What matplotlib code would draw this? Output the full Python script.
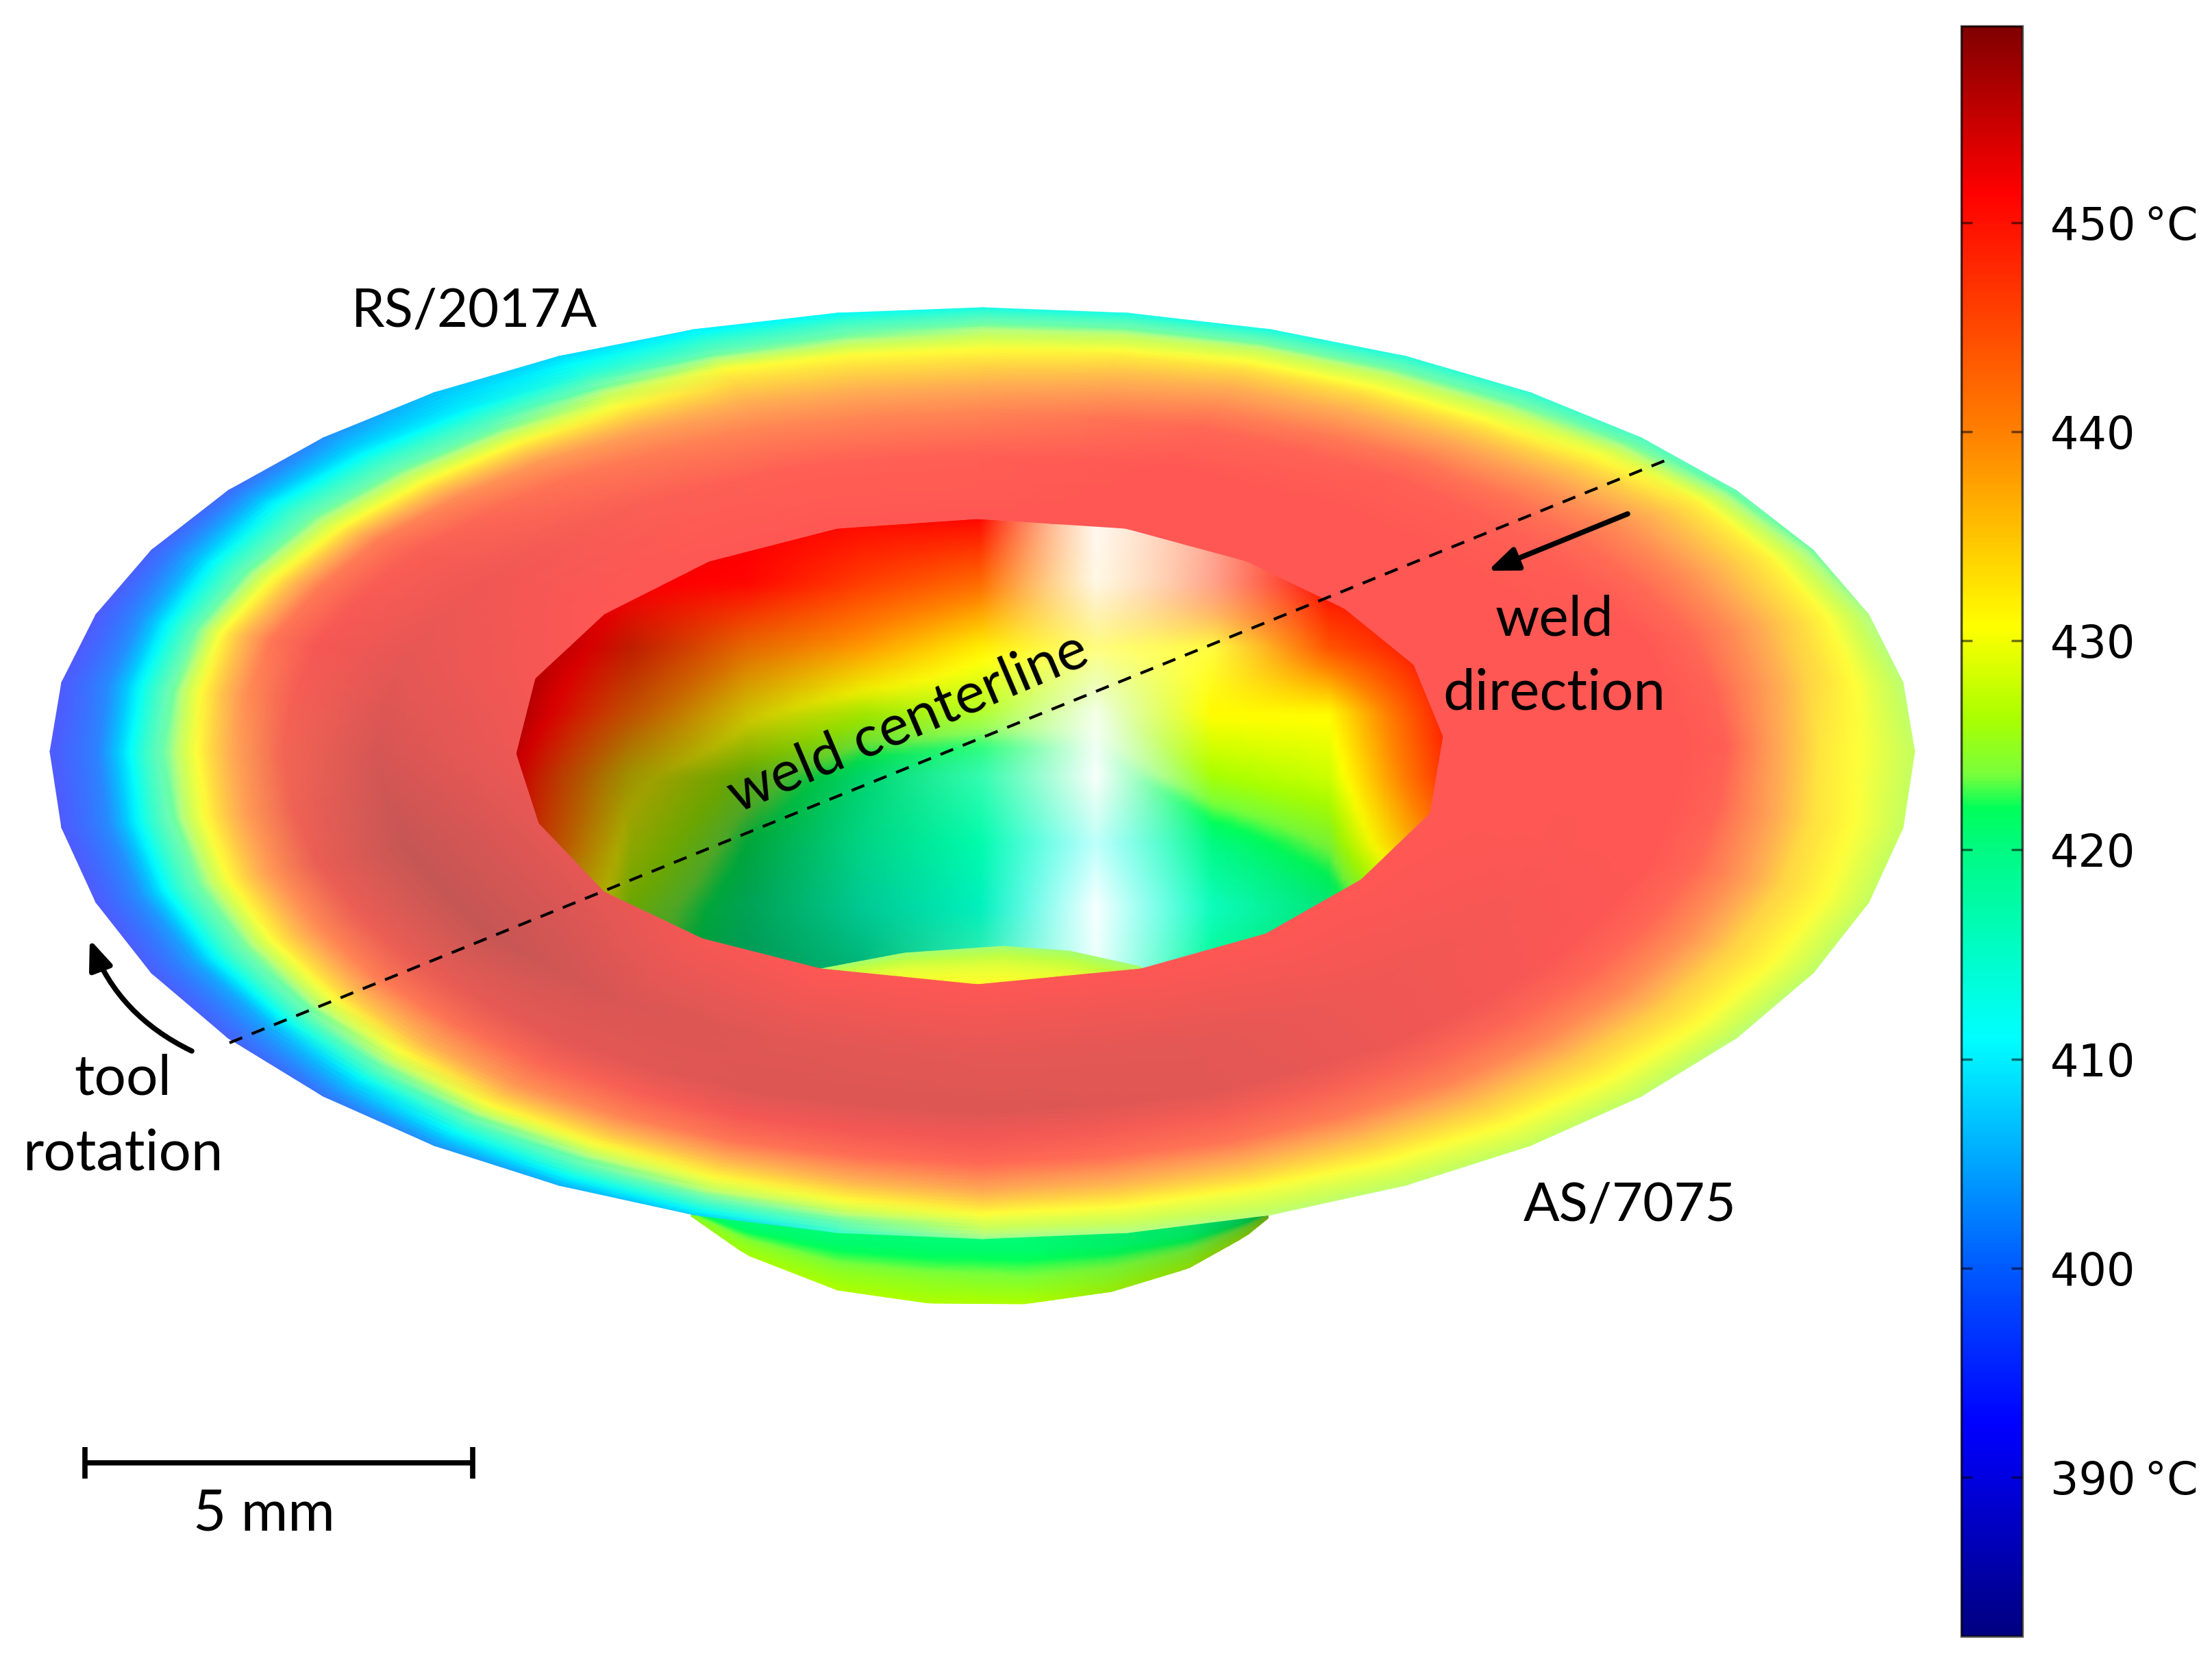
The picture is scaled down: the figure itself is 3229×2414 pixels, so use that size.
import numpy as np
import matplotlib
matplotlib.use("Agg")
import matplotlib.pyplot as plt
from matplotlib.cm import ScalarMappable
from matplotlib.colors import LinearSegmentedColormap, Normalize
from matplotlib.patches import Polygon

# temperature scale, degC and colour as seen on the bar
bar_min = 382.4
bar_max = 459.4
bar_ticks = [390, 400, 410, 420, 430, 440, 450]
bar_labels = ["390\u2009°C", "400", "410", "420", "430", "440", "450\u2009°C"]
scale_temps = [382.4, 390, 392.5, 400, 411, 420, 422, 423.6, 426.3, 430.7, 440, 451.5, 459.4]
scale_colors = ["#000080", "#0000e1", "#0000ff", "#005aff", "#00ffff", "#00fa82", "#00ff5a",
                "#78ff3c", "#aaff00", "#ffff00", "#ff8000", "#ff0000", "#800000"]

# flange outline in image pixels, every 9 degrees counter-clockwise from the right tip
outer_x = [2795, 2778, 2728, 2647, 2535, 2396, 2234, 2052, 1855, 1646,
           1434, 1222, 1013, 816, 634, 472, 333, 221, 140, 90,
           73, 90, 140, 221, 333, 472, 634, 816, 1013, 1222,
           1434, 1646, 1855, 2052, 2234, 2396, 2535, 2647, 2728, 2778]
outer_y = [1097, 996, 897, 803, 716, 639, 573, 520, 481, 457,
           449, 457, 481, 520, 573, 639, 716, 803, 897, 996,
           1097, 1208, 1317, 1420, 1515, 1600, 1672, 1730, 1773, 1799,
           1808, 1799, 1773, 1730, 1672, 1600, 1515, 1420, 1317, 1208]

# hole rim, every 18 degrees
inner_x = [2107, 2064, 1963, 1820, 1643, 1427, 1222, 1035, 882, 781,
           753, 786, 882, 1025, 1198, 1427, 1666, 1848, 1987, 2088]
inner_y = [1075, 970, 888, 819, 771, 757, 771, 819, 896, 990,
           1100, 1202, 1302, 1370, 1414, 1437, 1414, 1363, 1284, 1187]

# flange temperature, one row per rim station, one column per ring (rim to edge)
flange_rings = [0, 0.3, 0.5, 0.6, 0.7, 0.8, 0.9, 1.0]
flange_temp = [
    [451, 451, 451, 450, 441, 433, 430, 426],
    [451, 451, 451, 449, 444, 437, 431.5, 424],
    [451, 451, 450, 448, 444, 438, 432, 420],
    [451, 451, 450, 447, 441, 434, 426, 415],
    [451, 451, 449, 445, 440, 434, 426, 413],
    [451, 450, 445, 441, 436, 431, 424, 413],
    [451, 450, 445, 441, 436, 431, 418, 410],
    [451, 450, 447, 442, 431, 419, 410, 407],
    [451, 451, 450, 446, 431, 419, 409, 398],
    [451, 451, 451, 447, 433, 416, 403, 394],
    [451, 451, 449, 441, 429, 415, 401, 394],
    [451, 451, 450, 443, 431, 417, 403, 394],
    [451, 451, 450, 446, 434, 420, 405, 396],
    [451, 451, 451, 449, 443, 431, 415, 403],
    [451, 451, 451, 451, 447, 436, 425, 408],
    [451, 451, 451, 451, 449, 441, 431, 423],
    [451, 451, 451, 450, 447, 438, 430, 425],
    [451, 451, 451, 449, 445, 437, 431, 426],
    [451, 451, 451, 449, 444, 436, 431, 425],
    [451, 451, 451, 449, 443, 435, 431, 426],
]
# how dull the flange looks (grey band round the hole), first four rings only
flange_shade = [
    [1, 1, 1, 1], [1, 1, 1, 1], [1, 1, 1, 1], [1, 1, 1, 1], [1, 1, 1, 1],
    [1, 1, 1, 1], [1, 1, 1, 1], [1, 0.97, 1, 1], [1, 0.92, 0.97, 1],
    [0.95, 0.85, 0.95, 1], [0.9, 0.76, 0.93, 1], [0.85, 0.66, 0.88, 1],
    [0.85, 0.66, 0.88, 1], [0.95, 0.78, 0.84, 0.97], [1, 0.82, 0.8, 0.94],
    [1, 0.84, 0.8, 0.93], [1, 0.84, 0.82, 0.95], [1, 0.9, 0.9, 0.97],
    [1, 0.94, 0.97, 1], [1, 0.99, 1, 1],
]
gloss_temps = [382, 392, 400, 408, 411, 415, 420, 425, 431, 440, 460]
gloss_values = [0.35, 0.35, 0.2, 0.0, 0.0, 0.2, 0.42, 0.4, 0.22, 0.33, 0.33]

# inside of the bowl, read on a regular grid
bowl_x = [750, 920, 1090, 1260, 1430, 1600, 1770, 1940, 2110]
bowl_y = [755, 850, 945, 1040, 1135, 1230, 1325, 1440]
bowl_temp = [
    [458, 455, 452, 451, 451, 440, 448, 451, 451],
    [458, 452, 451, 446, 442, 436, 447, 451, 451],
    [458, 448, 441, 438, 432, 431, 431, 444, 451],
    [456, 442, 432, 427, 426, 425, 431, 431, 449],
    [452, 432, 425, 420, 418, 420, 426, 428, 447],
    [450, 429, 422, 418, 417, 412, 420, 424, 442],
    [445, 426, 420, 416, 415, 412, 416, 420, 430],
    [440, 424, 419, 418, 418, 415, 420, 421, 425],
]
bowl_shade = [
    [1, 1, 1, 1, 1, 1, 1, 1, 1],
    [1, 1, 1, 1, 1, 1, 1, 1, 1],
    [1, 0.75, 0.9, 1, 1, 1, 1, 1, 1],
    [0.9, 0.75, 0.8, 0.9, 1, 1, 1, 1, 1],
    [0.8, 0.62, 0.65, 0.85, 1, 1, 1, 1, 1],
    [0.8, 0.65, 0.65, 0.85, 1, 1, 1, 0.95, 1],
    [0.8, 0.65, 0.65, 0.8, 0.95, 1, 1, 0.92, 1],
    [0.8, 0.6, 0.6, 0.7, 0.9, 1, 1, 0.88, 1],
]
bowl_gloss = [
    [0, 0, 0, 0, 0, 0.95, 0.6, 0, 0],
    [0, 0, 0, 0, 0, 0.9, 0.55, 0, 0],
    [0, 0, 0, 0, 0, 0.5, 0.25, 0, 0],
    [0, 0, 0, 0, 0.15, 0.9, 0, 0, 0],
    [0, 0, 0, 0, 0.2, 0.97, 0, 0, 0],
    [0, 0, 0, 0, 0, 0.75, 0, 0, 0],
    [0, 0, 0, 0, 0, 0.97, 0.05, 0, 0],
    [0, 0, 0, 0, 0.3, 0.9, 0.02, 0, 0],
]

# floor of the bowl seen just above the near rim
floor_x = [1198, 1320, 1465, 1561, 1666]
floor_top = [1414, 1391, 1381, 1388, 1411]
floor_temp = [[424, 424, 424, 424, 424], [428, 429, 429, 428, 426], [431, 431, 431, 431, 430]]
floor_gloss = [0.3, 0.22, 0.15]

# underside dome below the flange
dome_x = [1009, 1089, 1223, 1356, 1496, 1623, 1735, 1819, 1851]
dome_bottom = [1775, 1831, 1883, 1902, 1903, 1885, 1851, 1804, 1778]
dome_rows = [0, 0.45, 0.75, 1]
dome_temp = [
    [420, 420, 420, 420, 420, 420, 420, 420, 420],
    [421, 421, 421, 421, 421, 421, 421, 421, 421],
    [424, 424.5, 424.5, 424.5, 424, 424, 424, 424, 424],
    [425, 426, 426.5, 426.5, 426.5, 426, 426, 426, 426],
]
dome_shade = [
    [1, 1, 1, 1, 1, 0.95, 0.9, 0.75, 0.65],
    [1, 1, 1, 1, 1, 0.95, 0.9, 0.75, 0.65],
    [1, 1, 1, 1, 1, 0.95, 0.88, 0.75, 0.65],
    [0.97, 1, 1, 1, 1, 0.92, 0.85, 0.75, 0.65],
]

norm = Normalize(bar_min, bar_max)
scale_pos = [(t - bar_min) / (bar_max - bar_min) for t in scale_temps]
cmap = LinearSegmentedColormap.from_list("bar", list(zip(scale_pos, scale_colors)), N=512)


def resample(grid, old_rows, new_rows, old_cols, new_cols):
    # bilinear onto a finer render mesh
    grid = np.asarray(grid, dtype=float)
    out = np.array([np.interp(new_cols, old_cols, row) for row in grid])
    return np.array([np.interp(new_rows, old_rows, col) for col in out.T]).T


def colours(temp, shade, gloss):
    rgba = cmap(norm(temp))
    rgba[..., :3] = shade[..., None] * (1 - gloss[..., None]) * rgba[..., :3] + gloss[..., None]
    rgba[..., :3] = np.clip(rgba[..., :3], 0, 1)
    return rgba


fig = plt.figure(figsize=(32.3, 24.14), dpi=100)
ax = fig.add_axes([0, 0, 1, 1])
ax.set_xlim(0, 3230)
ax.set_ylim(2414, 0)
ax.axis("off")

# dome
d_x = np.linspace(dome_x[0], dome_x[-1], 60)
d_f = np.linspace(0, 1, 30)
d_bottom = np.interp(d_x, dome_x, dome_bottom)
dX = np.tile(d_x, (len(d_f), 1))
dY = 1760 + np.outer(d_f, d_bottom - 1760)
d_T = resample(dome_temp, dome_rows, d_f, dome_x, d_x)
d_S = resample(dome_shade, dome_rows, d_f, dome_x, d_x)
ax.pcolormesh(dX, dY, colours(d_T, d_S, np.zeros_like(d_T)), shading="gouraud", zorder=1)

# bowl inside, clipped by the hole rim
rim = Polygon(np.column_stack([inner_x, inner_y]), closed=True, transform=ax.transData)
b_x = np.linspace(bowl_x[0], bowl_x[-1], 137)
b_y = np.linspace(bowl_y[0], bowl_y[-1], 70)
b_T = resample(bowl_temp, bowl_y, b_y, bowl_x, b_x)
b_S = resample(bowl_shade, bowl_y, b_y, bowl_x, b_x)
b_G = resample(bowl_gloss, bowl_y, b_y, bowl_x, b_x)
bowl = ax.pcolormesh(b_x, b_y, colours(b_T, b_S, b_G), shading="gouraud", zorder=2)
bowl.set_clip_path(rim)

f_x = np.linspace(floor_x[0], floor_x[-1], 50)
f_f = np.linspace(0, 1, 16)
f_top = np.interp(f_x, floor_x, floor_top)
fX = np.tile(f_x, (len(f_f), 1))
fY = f_top + np.outer(f_f, 1440 - f_top)
f_T = resample(floor_temp, [0, 0.5, 1], f_f, floor_x, f_x)
f_G = np.tile(np.interp(f_f, [0, 0.5, 1], floor_gloss)[:, None], (1, len(f_x)))
floor = ax.pcolormesh(fX, fY, colours(f_T, np.ones_like(f_T), f_G), shading="gouraud", zorder=3)
floor.set_clip_path(rim)

# flange
stations = np.arange(21)
fine = np.arange(0, 20.25, 0.5)
rings = np.linspace(0, 1, 71)
temp_closed = flange_temp + flange_temp[:1]
shade_closed = [row + [1, 1, 1, 1] for row in flange_shade]
shade_closed = shade_closed + shade_closed[:1]
T = resample(temp_closed, stations, fine, flange_rings, rings)
S = resample(shade_closed, stations, fine, flange_rings, rings)
G = np.interp(T, gloss_temps, gloss_values)
ix = np.interp(fine, stations, inner_x + inner_x[:1])
iy = np.interp(fine, stations, inner_y + inner_y[:1])
ox = np.array(outer_x + outer_x[:1], dtype=float)
oy = np.array(outer_y + outer_y[:1], dtype=float)
X = np.outer(ix, 1 - rings) + np.outer(ox, rings)
Y = np.outer(iy, 1 - rings) + np.outer(oy, rings)
ax.pcolormesh(X, Y, colours(T, S, G), shading="gouraud", zorder=4)

# weld centerline and scale bar
ax.plot([335, 2436], [1522, 670], color="black", lw=3, ls=(0, (4.8, 3.6)), zorder=5)
ax.plot([124, 690], [2135, 2135], color="black", lw=5.5, solid_capstyle="butt", zorder=5)
ax.plot([124, 124], [2112, 2158], color="black", lw=5.5, solid_capstyle="butt", zorder=5)
ax.plot([690, 690], [2112, 2158], color="black", lw=5.5, solid_capstyle="butt", zorder=5)

ax.annotate("", xy=(2172, 833), xytext=(2376, 750), zorder=6,
            arrowprops=dict(arrowstyle="-|>,head_length=0.65,head_width=0.26", color="black", lw=5.5,
                            shrinkA=0, shrinkB=0, mutation_scale=40))
ax.annotate("", xy=(131, 1371), xytext=(280, 1534), zorder=6,
            arrowprops=dict(arrowstyle="-|>,head_length=0.65,head_width=0.26", color="black", lw=5.5,
                            shrinkA=0, shrinkB=0, mutation_scale=40,
                            connectionstyle="arc3,rad=-0.2"))

text_style = dict(family="Lato", color="black", zorder=7)
ax.text(513, 477, "RS/2017A", ha="left", va="baseline", fontsize=56, **text_style)
ax.text(2224, 1782, "AS/7075", ha="left", va="baseline", fontsize=56, **text_style)
ax.text(179, 1597, "tool", ha="center", va="baseline", fontsize=59, **text_style)
ax.text(179, 1707, "rotation", ha="center", va="baseline", fontsize=60, **text_style)
ax.text(2281 - 12, 927, "weld", ha="center", va="baseline", fontsize=59, **text_style)
ax.text(2281 - 12, 1036, "direction", ha="center", va="baseline", fontsize=60, **text_style)
ax.text(385, 2233, "5 mm", ha="center", va="baseline", fontsize=60, **text_style)
ax.text(1326, 1055, "weld centerline", ha="center", va="center", rotation=23,
        rotation_mode="anchor", fontsize=60, **text_style)

# colour bar
cax = fig.add_axes([2863 / 3230, 1 - 2388 / 2414, 89 / 3230, 2350 / 2414])
cb = fig.colorbar(ScalarMappable(norm=norm, cmap=cmap), cax=cax)
cb.set_ticks(bar_ticks)
cb.set_ticklabels(bar_labels)
cb.ax.tick_params(direction="in", length=11.5, width=2.5, left=True, right=True,
                  color=(0, 0, 0, 0.55), labelsize=47, pad=29.5, labelcolor="black")
cb.outline.set_linewidth(2.5)
cb.outline.set_edgecolor((0, 0, 0, 0.7))

fig.savefig("out.png", dpi=100, facecolor="white")
